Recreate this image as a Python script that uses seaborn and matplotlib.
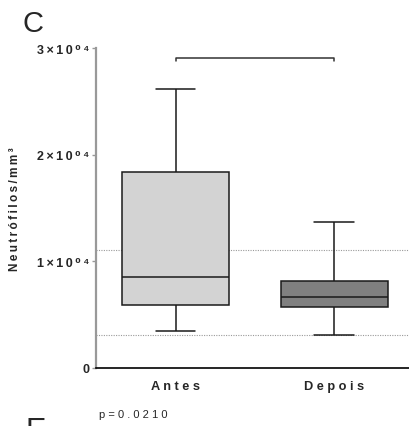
import matplotlib
matplotlib.use("Agg")
import matplotlib.pyplot as plt
import seaborn as sns
import pandas as pd

# ---- data ----
groups = ["Antes", "Depois"]
# five-number summaries (min, Q1, median, Q3, max)
antes_values = [3440, 5900, 8500, 18370, 26150]
depois_values = [3060, 5690, 6630, 8180, 13660]
ref_lines = [11090, 3060]          # dotted reference range
bracket_y = 29050
yticks = [0, 10000, 20000, 30000]
ytick_labels = ["0", "1×10⁰⁴", "2×10⁰⁴", "3×10⁰⁴"]
ylabel = "Neutrófilos/mm³"
pvalue_text = "p=0.0210"
box_colors = ["#d3d3d3", "#808080"]

df = pd.DataFrame({
    "grupo": [groups[0]] * len(antes_values) + [groups[1]] * len(depois_values),
    "valor": antes_values + depois_values,
})

def spaced(s, sep="\u2009"):
    return sep.join(s)

sns.set_style("white")
plt.rcParams["font.family"] = ["Liberation Sans", "DejaVu Sans"]

fig = plt.figure(figsize=(4.09, 4.27), dpi=100)
ax = fig.add_axes([96 / 409, 1 - 369 / 427, 1 - 96 / 409, (369 - 49.3) / 427])

sns.boxplot(data=df, x="grupo", y="valor", order=groups, hue="grupo",
            palette=box_colors, saturation=1, width=0.675, whis=(0, 100),
            linecolor="#1a1a1a", linewidth=1.1, legend=False, ax=ax,
            capwidths=0.252)

for yv in ref_lines:
    ax.axhline(yv, color="#9a9a9a", linestyle=(0, (1, 1.2)), linewidth=0.8, zorder=0)

ax.plot([0, 0, 1, 1], [bracket_y - 250, bracket_y, bracket_y, bracket_y - 250],
        color="#333333", linewidth=1.1, clip_on=False)

ax.set_xlim(-0.5016, 1.473)
ax.set_ylim(0, 30000)
ax.set_yticks(yticks)
ax.set_yticklabels([spaced(t) if t != "0" else t for t in ytick_labels],
                   fontsize=9, fontweight="bold")
ax.set_xticks(range(len(groups)))
ax.set_xticklabels([spaced(g, " ") for g in groups], fontsize=9.2, fontweight="bold")
ax.set_xlabel("")
ax.set_ylabel(spaced(ylabel), fontsize=8.5, fontweight="bold", labelpad=4)
ax.yaxis.set_label_coords(-75 / 313, 0.5)

for s in ["top", "right"]:
    ax.spines[s].set_visible(False)
ax.spines["left"].set_color("#999999")
ax.spines["left"].set_linewidth(1.6)
ax.spines["bottom"].set_color("black")
ax.spines["bottom"].set_linewidth(1.2)
ax.tick_params(axis="y", length=3, width=1, color="#999999", pad=2, left=True)
ax.tick_params(axis="x", length=0, pad=9)

fig.text(23 / 409, 1 - 32 / 427, "C", fontsize=21, va="baseline", ha="left")
fig.text(99 / 409, 1 - 418 / 427, spaced(pvalue_text, " "), fontsize=8, va="baseline", ha="left")
fig.text(25 / 409, 1 - 440 / 427, "E", fontsize=22, va="baseline", ha="left")

fig.savefig("out.png", dpi=100)
